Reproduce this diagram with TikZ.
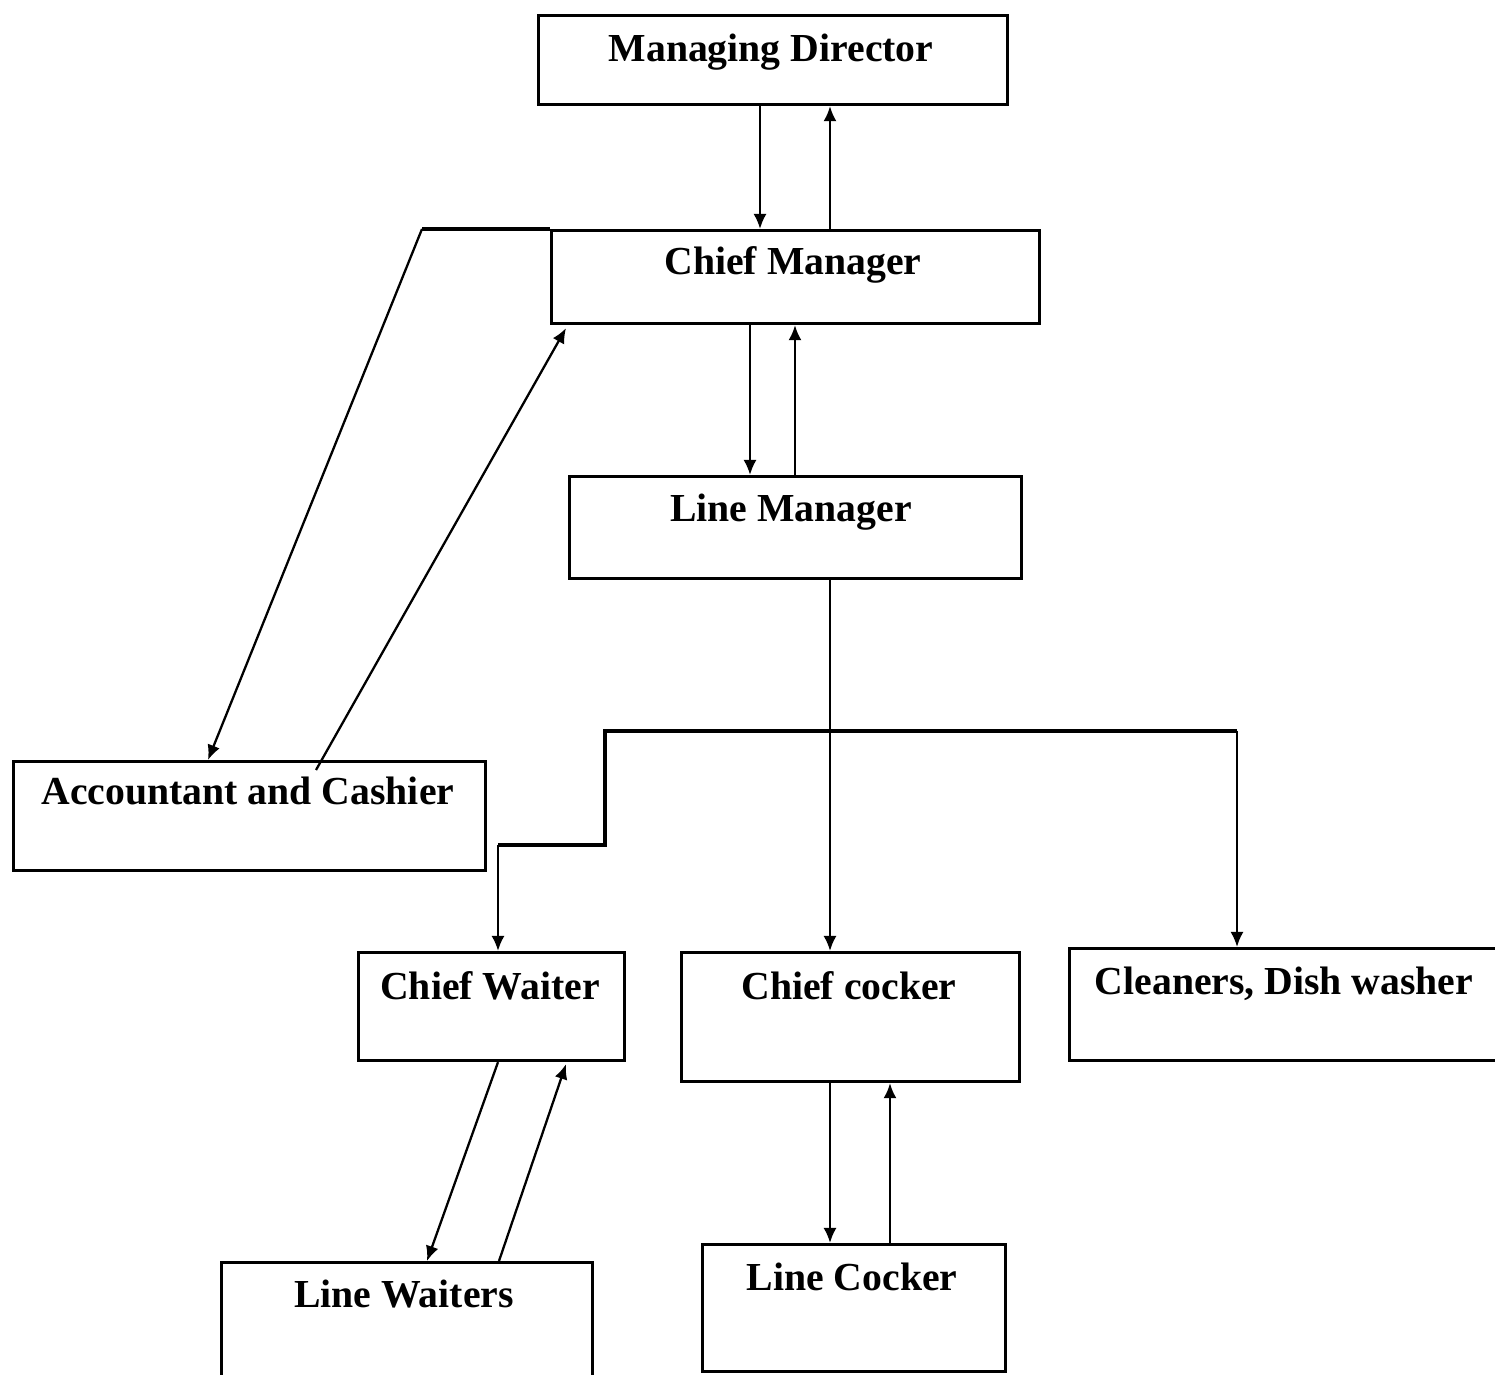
\documentclass[tikz,border=0pt]{standalone}
\usepackage{fontspec}
\setmainfont{Liberation Serif}
\usetikzlibrary{arrows.meta}
\begin{document}
\begin{tikzpicture}[
  box/.style={draw, line width=0.9pt, inner sep=0pt, anchor=north west},
  lbl/.style={anchor=base, inner sep=0pt, font=\fontsize{11.3}{13}\selectfont\bfseries},
  conn/.style={line width=0.65pt},
  bus/.style={line width=0.9pt, line join=miter},
  arr/.style={conn, -{Latex[length=1.5mm,width=1.3mm]}},
]
\useasboundingbox (0,0) rectangle (14.95,-13.75);
\clip (0,0) rectangle (14.95,-13.75);
\fill[white] (0,0) rectangle (14.95,-13.75);

% boxes
\node[box, minimum width=4.69cm, minimum height=0.89cm] (md) at (5.37,-0.14) {};
\node[box, minimum width=4.88cm, minimum height=0.93cm] (cm) at (5.50,-2.29) {};
\node[box, minimum width=4.52cm, minimum height=1.02cm] (lm) at (5.68,-4.75) {};
\node[box, minimum width=4.72cm, minimum height=1.09cm] (ac) at (0.12,-7.60) {};
\node[box, minimum width=2.66cm, minimum height=1.08cm] (cw) at (3.57,-9.51) {};
\node[box, minimum width=3.38cm, minimum height=1.29cm] (cc) at (6.80,-9.51) {};
\node[box, minimum width=4.52cm, minimum height=1.12cm] (cd) at (10.68,-9.47) {};
\node[box, minimum width=3.71cm, minimum height=1.39cm] (lw) at (2.20,-12.61) {};
\node[box, minimum width=3.03cm, minimum height=1.27cm] (lc) at (7.01,-12.43) {};

% labels
\node[lbl] (tmd) at (7.71,-0.62) {Managing Director};
\node[lbl] (tcm) at (7.93,-2.75) {Chief Manager};
\node[lbl] (tlm) at (7.91,-5.22) {Line Manager};
\node[lbl] (tac) at (2.48,-8.05) {Accountant and Cashier};
\node[lbl] (tcw) at (4.90,-10.00) {Chief Waiter};
\node[lbl] (tcc) at (8.49,-10.00) {Chief cocker};
\node[lbl] (tcd) at (12.84,-9.95) {Cleaners, Dish washer};
\node[lbl] (tlw) at (4.04,-13.08) {Line Waiters};
\node[lbl] (tlc) at (8.52,-12.90) {Line Cocker};

% column coordinates
\coordinate (x760) at (7.60,0);
\coordinate (x830) at (8.30,0);
\coordinate (x750) at (7.50,0);
\coordinate (x795) at (7.95,0);
\coordinate (x566) at (5.66,0);
\coordinate (x208) at (2.08,0);
\coordinate (x316) at (3.16,0);
\coordinate (x498) at (4.98,0);
\coordinate (x1237) at (12.37,0);
\coordinate (x890) at (8.90,0);
\coordinate (x427) at (4.27,0);
\coordinate (x499) at (4.99,0);
\coordinate (k1) at (4.22,-2.29);
\coordinate (b1) at (6.05,-7.31);
\coordinate (b2) at (6.05,-8.45);
\coordinate (b3) at (4.98,-8.45);
\coordinate (b4) at (12.37,-7.31);

% MD <-> CM
\draw[arr] (md.south -| x760) -- (cm.north -| x760);
\draw[arr] (cm.north -| x830) -- (md.south -| x830);

% CM <-> Accountant
\draw[bus] (cm.north west) -- (k1);
\draw[arr] (k1) -- (ac.north -| x208);
\draw[arr] ([yshift=-0.1cm]ac.north -| x316) -- ([yshift=-0.03cm]cm.south -| x566);

% CM <-> LM
\draw[arr] (cm.south -| x750) -- (lm.north -| x750);
\draw[arr] (lm.north -| x795) -- (cm.south -| x795);

% LM -> staff
\draw[arr] (lm.south -| x830) -- (cc.north -| x830);
\draw[bus] (b3) -- (b2) -- (b1) -- (b4);
\draw[arr] (b3) -- (cw.north -| x498);
\draw[arr] (b4) -- (cd.north -| x1237);

% CW <-> LW
\draw[arr] (cw.south -| x498) -- (lw.north -| x427);
\draw[arr] (lw.north -| x499) -- ([yshift=-0.02cm]cw.south -| x566);

% CC <-> LC
\draw[arr] (cc.south -| x830) -- (lc.north -| x830);
\draw[arr] (lc.north -| x890) -- (cc.south -| x890);
\end{tikzpicture}
\end{document}
